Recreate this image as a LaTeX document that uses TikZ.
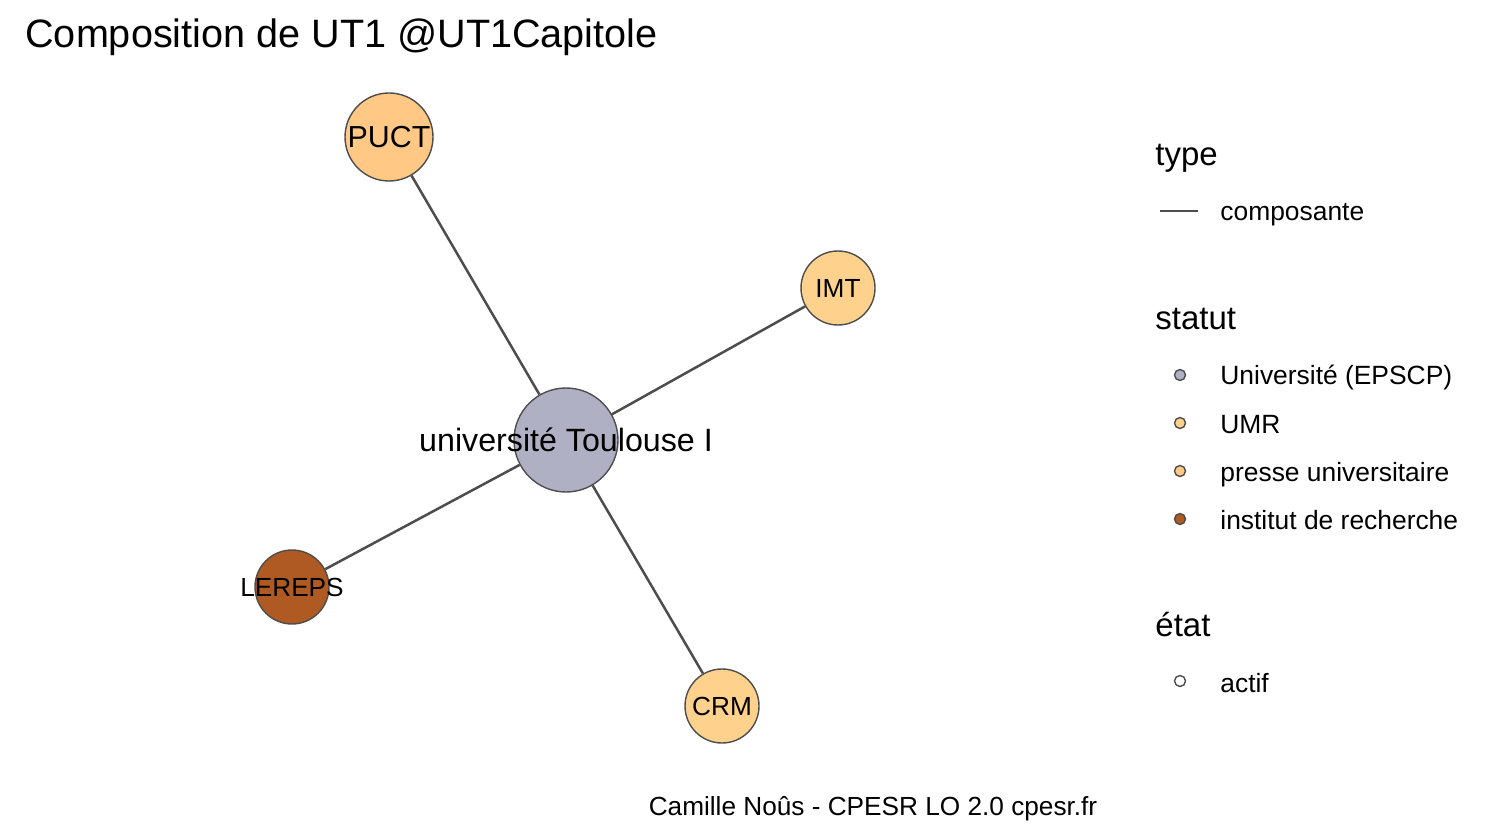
\documentclass[tikz,border=0pt]{standalone}
\usepackage{fontspec}
\setmainfont{Liberation Sans}
\definecolor{edgegrey}{HTML}{4D4D4D}
\definecolor{univcol}{HTML}{B0B0C4}
\definecolor{umrcol}{HTML}{FED28C}
\definecolor{pressecol}{HTML}{FFC985}
\definecolor{instcol}{HTML}{AE5A22}

\begin{document}
\begin{tikzpicture}[x=0.5pt,y=-0.5pt,
    vertex/.style={circle,draw=edgegrey,line width=0.7pt,inner sep=0pt},
    lien/.style={draw=edgegrey,line width=1.25pt},
    keydot/.style={circle,draw=edgegrey,line width=0.7pt,inner sep=0pt,minimum size=5.5pt},
    keytxt/.style={anchor=base west,inner sep=0pt,font=\fontsize{13.2}{15}\selectfont},
    keyhead/.style={anchor=base west,inner sep=0pt,font=\fontsize{16.5}{19}\selectfont}]
        \useasboundingbox (0,0) rectangle (1492,839);
        \node[anchor=base west,inner sep=0pt,font=\fontsize{19.8}{23}\selectfont] (titre) at (25,48) {Composition de UT1 @UT1Capitole};
        % graph
        \node[vertex,fill=univcol,minimum size=52pt,
          label={[font=\fontsize{16.1}{19}\selectfont]center:université Toulouse I}] (ut1) at (566,440) {};
        \node[vertex,fill=pressecol,minimum size=44pt,
          label={[font=\fontsize{15.2}{18}\selectfont]center:PUCT}] (puct) at (389,137) {};
        \node[vertex,fill=umrcol,minimum size=37pt,
          label={[font=\fontsize{13.1}{15}\selectfont]center:IMT}] (imt) at (838,288) {};
        \node[vertex,fill=instcol,minimum size=37pt,
          label={[font=\fontsize{13.1}{15}\selectfont]center:LEREPS}] (lereps) at (292,587) {};
        \node[vertex,fill=umrcol,minimum size=37pt,
          label={[font=\fontsize{13.1}{15}\selectfont]center:CRM}] (crm) at (722,706) {};
        \draw[lien] (ut1) -- (puct);
        \draw[lien] (ut1) -- (imt);
        \draw[lien] (ut1) -- (lereps);
        \draw[lien] (ut1) -- (crm);
        % legend
        \node[keyhead] (htype) at (1155,166) {type};
        \coordinate (ta) at (1160,211);
        \coordinate (tb) at (1198,211);
        \draw[lien] (ta) -- (tb);
        \node[keytxt] (kcomp) at (1220,221) {composante};
        \node[keyhead] (hstatut) at (1155,329) {statut};
        \node[keydot,fill=univcol] (duniv) at (1180,375) {};
        \node[keytxt] (kuniv) at (1220,385) {Université (EPSCP)};
        \node[keydot,fill=umrcol] (dumr) at (1180,423) {};
        \node[keytxt] (kumr) at (1220,433) {UMR};
        \node[keydot,fill=pressecol] (dpresse) at (1180,471) {};
        \node[keytxt] (kpresse) at (1220,481) {presse universitaire};
        \node[keydot,fill=instcol] (dinst) at (1180,519) {};
        \node[keytxt] (kinst) at (1220,529) {institut de recherche};
        \node[keyhead] (hetat) at (1155,636) {état};
        \node[keydot,fill=white] (dactif) at (1180,681) {};
        \node[keytxt] (kactif) at (1220,692) {actif};
        % caption
        \node[anchor=base,inner sep=0pt,font=\fontsize{13.1}{15}\selectfont] (credit) at (873,815) {Camille Noûs - CPESR LO 2.0 cpesr.fr};
\end{tikzpicture}
\end{document}
